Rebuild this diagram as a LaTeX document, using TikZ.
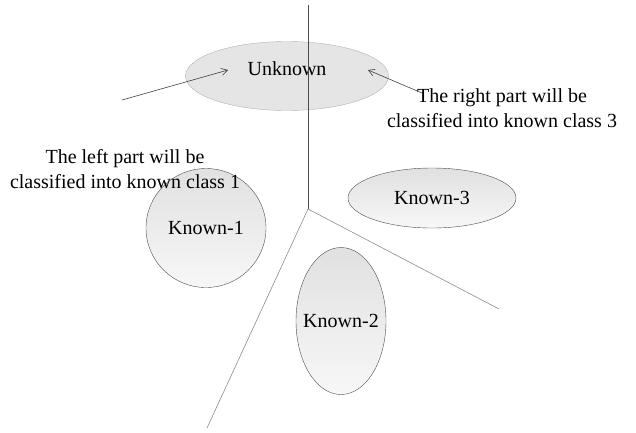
\documentclass[tikz,border=0pt]{standalone}
\usepackage{fontspec}
\setmainfont{Liberation Serif}
\usetikzlibrary{shapes.geometric, arrows.meta, positioning}
\tikzset{
  cls/.style={ellipse, draw=black!70, top color=black!12, bottom color=black!3,
              inner xsep=-10pt, inner ysep=0pt, font=\fontsize{20}{24}\selectfont},
  clsunk/.style={cls, draw=black!30, top color=black!10, bottom color=black!10},
  note/.style={align=center, font=\fontsize{20}{25}\selectfont, inner sep=0pt},
  border/.style={draw=black!45, line width=0.6pt},
  pointer/.style={-{Straight Barb[length=6pt,width=7pt]}, draw=black!75, line width=0.6pt},
}

\begin{document}
\begin{tikzpicture}[x=1pt, y=-1pt]
  \useasboundingbox (0,0) rectangle (636,432);

  % classes
  \node[clsunk, minimum width=203, minimum height=69, text depth=14pt] (unknown) at (287,76) {Unknown};
  \node[cls, minimum width=120, minimum height=119] (known1) at (206,228) {Known-1};
  \node[cls, minimum width=90, minimum height=147] (known2) at (341,321) {Known-2};
  \node[cls, minimum width=168, minimum height=60] (known3) at (432,198) {Known-3};

  % region borders
  \coordinate (top) at (308,5);
  \coordinate (mid) at (308,209);
  \coordinate (lowl) at (207,428);
  \coordinate (lowr) at (499,309);
  \draw[border, draw=black!70] (top) -- (mid);
  \draw[border] (mid) -- (lowl);
  \draw[border] (mid) -- (lowr);

  % notes
  \node[note] (leftnote) at (125,169)
    {The left part will be\\classified into known class 1};
  \node[note] (rightnote) at (502,108)
    {The right part will be\\classified into known class 3};

  \coordinate (lfrom) at (122,100);
  \coordinate (lto) at (228,70);
  \coordinate (rfrom) at (422,93);
  \coordinate (rto) at (368,70);
  \draw[pointer] (lfrom) -- (lto);
  \draw[pointer] (rfrom) -- (rto);
\end{tikzpicture}
\end{document}
